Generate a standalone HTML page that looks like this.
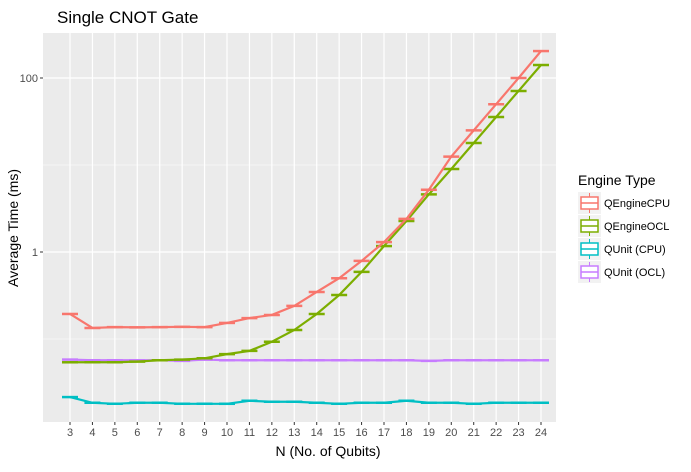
<!DOCTYPE html>
<html><head><meta charset="utf-8"><style>
body{margin:0;background:#fff;font-family:"Liberation Sans",sans-serif}
</style></head><body>
<svg id="c" width="691" height="467" xmlns="http://www.w3.org/2000/svg" font-family="Liberation Sans, sans-serif">
<text x="57" y="23" font-size="17" fill="#000">Single CNOT Gate</text>
<rect x="43" y="33" width="513" height="389" fill="#ebebeb"/>
<g id="grid"></g><g id="series"></g><g id="axes"></g>
<text x="328" y="456" font-size="14" text-anchor="middle">N (No. of Qubits)</text>
<text transform="translate(18,228) rotate(-90)" font-size="14" text-anchor="middle">Average Time (ms)</text>
<g id="legend">
<text x="578" y="185" font-size="14">Engine Type</text>
</g>
</svg>
<script>
const qubits=[3,4,5,6,7,8,9,10,11,12,13,14,15,16,17,18,19,20,21,22,23,24];
const seriesNames=["QEngineCPU","QEngineOCL","QUnit (CPU)","QUnit (OCL)"];
const cpuVals=[0.194,0.134,0.137,0.136,0.137,0.138,0.137,0.153,0.174,0.189,0.24,0.347,0.50,0.79,1.30,2.4,5.2,12.5,25,50,100,204];
const oclVals=[0.054,0.054,0.054,0.055,0.057,0.058,0.06,0.067,0.073,0.093,0.127,0.194,0.32,0.59,1.17,2.27,4.6,9.0,17.9,35.6,71,141];
const unitCpuVals=[0.0215,0.0185,0.018,0.0185,0.0185,0.018,0.018,0.018,0.0195,0.019,0.019,0.0185,0.018,0.0185,0.0185,0.0195,0.0185,0.0185,0.018,0.0185,0.0185,0.0185];
const unitOclVals=[0.058,0.057,0.057,0.057,0.057,0.056,0.058,0.057,0.057,0.057,0.057,0.057,0.057,0.057,0.057,0.057,0.056,0.057,0.057,0.057,0.057,0.057];
const colors=["#f8766d","#7cae00","#00bfc4","#c77cff"];
const yMajor=[1,100],yMajorLabels=["1","100"],yMinor=[0.1,10];
const NS="http://www.w3.org/2000/svg";
const X=n=>70+(n-3)*(541-70)/21;
const Y=v=>252-87*Math.log10(v);
function mk(t,a,p){const e=document.createElementNS(NS,t);for(const k in a)e.setAttribute(k,a[k]);p.appendChild(e);return e;}
const grid=document.getElementById('grid'),ser=document.getElementById('series'),ax=document.getElementById('axes'),leg=document.getElementById('legend');
yMinor.forEach(v=>{const l=mk('line',{x1:43,x2:556,y1:Y(v),y2:Y(v),stroke:'#fff','stroke-width':0.6},grid);

});
yMajor.forEach((v,i)=>{const l=mk('line',{x1:43,x2:556,y1:Y(v),y2:Y(v),stroke:'#fff','stroke-width':1.2},grid);


mk('line',{x1:40,x2:43,y1:Y(v),y2:Y(v),stroke:'#333'},ax);
const t=mk('text',{x:38,y:Y(v)+4,'font-size':11,fill:'#4d4d4d','text-anchor':'end'},ax);t.textContent=yMajorLabels[i];

});
qubits.forEach(n=>{const l=mk('line',{x1:X(n),x2:X(n),y1:33,y2:422,stroke:'#fff','stroke-width':1.2},grid);


mk('line',{x1:X(n),x2:X(n),y1:422,y2:425,stroke:'#333'},ax);
const t=mk('text',{x:X(n),y:436,'font-size':11,fill:'#4d4d4d','text-anchor':'middle'},ax);t.textContent=n;

});
const all=[cpuVals,oclVals,unitCpuVals,unitOclVals];
[3,2,1,0].forEach(si=>{const vals=all[si];
const p=mk('polyline',{points:qubits.map((n,i)=>X(n)+','+Y(vals[i])).join(' '),fill:'none',stroke:colors[si],'stroke-width':2.2},ser);


qubits.forEach((n,i)=>{const c=mk('line',{x1:X(n)-8,x2:X(n)+8,y1:Y(vals[i]),y2:Y(vals[i]),stroke:colors[si],'stroke-width':2.5},ser);

});});
seriesNames.forEach((s,i)=>{const cy=203+i*23;
const g=mk('g',{},leg);


mk('rect',{x:578,y:cy-11,width:23,height:22,fill:'#f2f2f2'},g);
mk('line',{x1:589.5,x2:589.5,y1:cy-10,y2:cy+10,stroke:colors[i],'stroke-width':1},g);
mk('rect',{x:581,y:cy-6,width:17,height:12,fill:'#fff',stroke:colors[i],'stroke-width':1.5},g);
mk('line',{x1:581,x2:598,y1:cy,y2:cy,stroke:colors[i],'stroke-width':1.5},g);
const t=mk('text',{x:604,y:cy+4,'font-size':11},g);t.textContent=s;});
</script>
</body></html>
